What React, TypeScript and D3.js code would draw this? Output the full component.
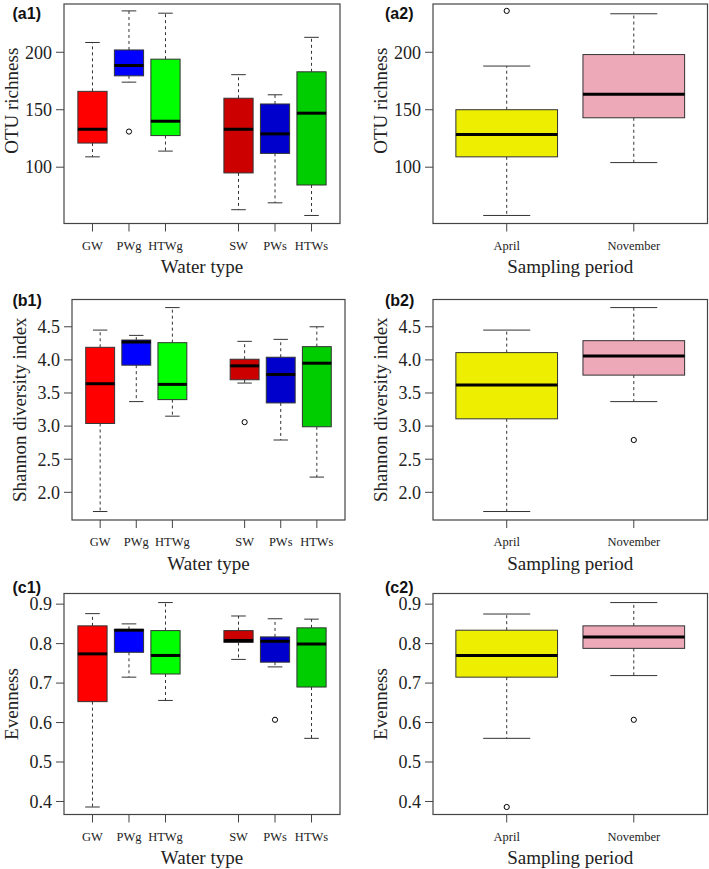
import React from "react";
import * as d3 from "d3";

// ---------- data ----------
const waterTypes = ["GW", "PWg", "HTWg", "SW", "PWs", "HTWs"];
const waterPositions = [1, 2, 3, 5, 6, 7];
const waterColors = ["#FF0000", "#0000FF", "#00FF00", "#CD0000", "#0000CD", "#00CD00"];
const periods = ["April", "November"];
const periodPositions = [1, 2];
const periodColors = ["#EEEE00", "#EEA9B8"];

// [lower whisker, Q1, median, Q3, upper whisker]
const otuWater = [
  [109, 121, 133, 166, 208.5],
  [174, 179.5, 188.5, 202, 236],
  [114, 127.5, 140, 194, 234],
  [63, 95, 133, 160, 180.5],
  [69, 112, 129, 155, 163],
  [58, 84.5, 147, 183, 213],
];
const otuWaterOutliers = [[], [131], [], [], [], []];
const otuPeriod = [
  [58, 109, 128.5, 150, 188],
  [104, 143, 163.5, 198, 233.5],
];
const otuPeriodOutliers = [[236], []];

const shannonWater = [
  [1.71, 3.04, 3.64, 4.19, 4.45],
  [3.37, 3.92, 4.27, 4.3, 4.37],
  [3.15, 3.4, 3.63, 4.26, 4.79],
  [3.65, 3.7, 3.91, 4.01, 4.28],
  [2.79, 3.35, 3.78, 4.04, 4.31],
  [2.23, 2.99, 3.95, 4.2, 4.5],
];
const shannonWaterOutliers = [[], [], [], [3.06], [], []];
const shannonPeriod = [
  [1.71, 3.11, 3.62, 4.11, 4.45],
  [3.37, 3.77, 4.06, 4.29, 4.79],
];
const shannonPeriodOutliers = [[], [2.79]];

const evenWater = [
  [0.386, 0.653, 0.774, 0.845, 0.876],
  [0.715, 0.778, 0.834, 0.836, 0.85],
  [0.656, 0.723, 0.77, 0.833, 0.904],
  [0.76, 0.803, 0.808, 0.833, 0.87],
  [0.741, 0.753, 0.806, 0.817, 0.863],
  [0.56, 0.69, 0.799, 0.84, 0.862],
];
const evenWaterOutliers = [[], [], [], [], [0.607], []];
const evenPeriod = [
  [0.56, 0.715, 0.77, 0.834, 0.875],
  [0.719, 0.788, 0.817, 0.845, 0.904],
];
const evenPeriodOutliers = [[0.386], [0.607]];

const otuTicks = [100, 150, 200];
const shannonTicks = [2.0, 2.5, 3.0, 3.5, 4.0, 4.5];
const evenTicks = [0.4, 0.5, 0.6, 0.7, 0.8, 0.9];

// ---------- layout ----------
const W = 709;
const H = 869;
const SERIF = "'Liberation Serif', 'Times New Roman', serif";
const SANS = "'Liberation Sans', Arial, sans-serif";

const rows = [
  { key: "a", top: 4, bottom: 223.5, domain: [51, 242], ticks: otuTicks, fmt: (d: number) => String(d), title: "OTU richness", titleShift: -13,
    water: otuWater, waterOut: otuWaterOutliers, period: otuPeriod, periodOut: otuPeriodOutliers, labelY: 13 },
  { key: "b", top: 299.5, bottom: 520, domain: [1.582, 4.912], ticks: shannonTicks, fmt: d3.format(".1f"), title: "Shannon diversity index", titleShift: 0,
    water: shannonWater, waterOut: shannonWaterOutliers, period: shannonPeriod, periodOut: shannonPeriodOutliers, labelY: 300 },
  { key: "c", top: 593.5, bottom: 814.5, domain: [0.367, 0.927], ticks: evenTicks, fmt: d3.format(".1f"), title: "Evenness", titleShift: 0,
    water: evenWater, waterOut: evenWaterOutliers, period: evenPeriod, periodOut: evenPeriodOutliers, labelY: 587 },
];

const leftCols = { a: [64, 340], b: [72, 345], c: [64, 340] } as Record<string, number[]>;
const rightCol = [433, 707.5];

type PanelProps = {
  left: number; right: number; top: number; bottom: number;
  domain: number[]; xDomain: number[];
  ticks: number[]; fmt: (d: number) => string;
  title: string; titleShift: number; xTitle: string;
  cats: string[]; pos: number[]; colors: string[];
  stats: number[][]; outliers: number[][];
  capFrac: number; label: string; labelX: number; labelY: number;
};

function Panel(p: PanelProps) {
  const x = d3.scaleLinear().domain(p.xDomain).range([p.left, p.right]);
  const y = d3.scaleLinear().domain(p.domain).range([p.bottom, p.top]);
  const unit = x(1) - x(0);
  const bw = 0.8 * unit;
  const cw = p.capFrac * unit;
  const ink = "#333";
  return (
    <g>
      {/* boxes */}
      {p.stats.map((s, i) => {
        const cx = x(p.pos[i]);
        const [lo, q1, med, q3, hi] = s;
        return (
          <g key={i}>
            <line x1={cx} x2={cx} y1={y(q3)} y2={y(hi)} stroke={ink} strokeWidth={1} strokeDasharray="3,3" />
            <line x1={cx} x2={cx} y1={y(q1)} y2={y(lo)} stroke={ink} strokeWidth={1} strokeDasharray="3,3" />
            <line x1={cx - cw / 2} x2={cx + cw / 2} y1={y(hi)} y2={y(hi)} stroke={ink} strokeWidth={1} />
            <line x1={cx - cw / 2} x2={cx + cw / 2} y1={y(lo)} y2={y(lo)} stroke={ink} strokeWidth={1} />
            <rect x={cx - bw / 2} y={y(q3)} width={bw} height={y(q1) - y(q3)} fill={p.colors[i]} stroke={ink} strokeWidth={1} />
            <line x1={cx - bw / 2} x2={cx + bw / 2} y1={y(med)} y2={y(med)} stroke="#000" strokeWidth={3} />
            {p.outliers[i].map((o, j) => (
              <circle key={j} cx={cx} cy={y(o)} r={2.6} fill="none" stroke="#000" strokeWidth={1} />
            ))}
          </g>
        );
      })}
      {/* frame */}
      <rect x={p.left} y={p.top} width={p.right - p.left} height={p.bottom - p.top} fill="none" stroke="#444" strokeWidth={1.2} />
      {/* y axis */}
      {p.ticks.map((t) => (
        <g key={t}>
          <line x1={p.left - 8} x2={p.left} y1={y(t)} y2={y(t)} stroke="#444" strokeWidth={1} />
          <text x={p.left - 12} y={y(t)} dy="0.35em" textAnchor="end" fontFamily={SERIF} fontSize={18} fill="#222">
            {p.fmt(t)}
          </text>
        </g>
      ))}
      <text
        transform={`translate(${p.left - 53},${(p.top + p.bottom) / 2 + p.titleShift}) rotate(-90)`}
        dy="0.35em" textAnchor="middle" fontFamily={SERIF} fontSize={19} fill="#222"
      >
        {p.title}
      </text>
      {/* x axis */}
      {p.cats.map((c, i) => (
        <g key={c}>
          <line x1={x(p.pos[i])} x2={x(p.pos[i])} y1={p.bottom} y2={p.bottom + 8} stroke="#444" strokeWidth={1} />
          <text x={x(p.pos[i])} y={p.bottom + 26} textAnchor="middle" fontFamily={SERIF} fontSize={12.5} fill="#222">
            {c}
          </text>
        </g>
      ))}
      <text x={(p.left + p.right) / 2} y={p.bottom + 49.5} textAnchor="middle" fontFamily={SERIF} fontSize={19} fill="#222">
        {p.xTitle}
      </text>
      <text x={p.labelX} y={p.labelY} dy="0.36em" fontFamily={SANS} fontWeight="bold" fontSize={16} fill="#111">
        {p.label}
      </text>
    </g>
  );
}

export default function App() {
  return (
    <svg width={W} height={H} viewBox={`0 0 ${W} ${H}`} style={{ position: "absolute", left: 0, top: 0, display: "block", background: "#fff" }}>
      <rect x={0} y={0} width={W} height={H} fill="#fff" />
      {rows.map((r) => (
        <g key={r.key}>
          <Panel
            left={leftCols[r.key][0]} right={leftCols[r.key][1]} top={r.top} bottom={r.bottom}
            domain={r.domain} xDomain={[0.22, 7.78]} ticks={r.ticks} fmt={r.fmt}
            title={r.title} titleShift={r.titleShift} xTitle="Water type"
            cats={waterTypes} pos={waterPositions} colors={waterColors}
            stats={r.water} outliers={r.waterOut} capFrac={0.4}
            label={`(${r.key}1)`} labelX={12.5} labelY={r.labelY}
          />
          <Panel
            left={rightCol[0]} right={rightCol[1]} top={r.top} bottom={r.bottom}
            domain={r.domain} xDomain={[0.42, 2.58]} ticks={r.ticks} fmt={r.fmt}
            title={r.title} titleShift={r.titleShift} xTitle="Sampling period"
            cats={periods} pos={periodPositions} colors={periodColors}
            stats={r.period} outliers={r.periodOut} capFrac={0.37}
            label={`(${r.key}2)`} labelX={385} labelY={r.labelY}
          />
        </g>
      ))}
    </svg>
  );
}
